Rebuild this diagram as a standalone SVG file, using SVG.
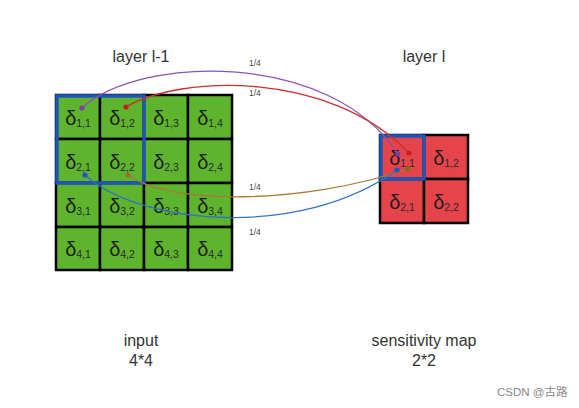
<svg xmlns="http://www.w3.org/2000/svg" width="579" height="408" viewBox="0 0 579 408">
<style>
text{font-family:"Liberation Sans",Arial,sans-serif;fill:#222}
.g{fill:#5fb42e;stroke:#000;stroke-width:2.5}
.r{fill:#e5454a;stroke:#000;stroke-width:2.5}
.d{font-size:20px;text-anchor:middle;fill:#1e1e1e}
.s{font-size:10.5px;fill:#2a2a2a}
.t{font-size:16px;text-anchor:middle;fill:#333}
.f{font-size:8.5px;fill:#444}
.sel{fill:none;stroke:#1f55b8;stroke-width:3.5}
.c{fill:none;stroke-width:1.3}
</style>
<rect width="579" height="408" fill="#fff"/>
<text class="t" x="141" y="62">layer l-1</text>
<text class="t" x="424" y="62">layer l</text>
<text class="t" x="141" y="346">input</text>
<text class="t" x="141" y="366">4*4</text>
<text class="t" x="424" y="346">sensitivity map</text>
<text class="t" x="424" y="366">2*2</text>
<text x="497" y="396" style="font-size:11.5px;fill:#888;font-family:'Liberation Sans','Noto Sans CJK SC',sans-serif">CSDN @古路</text>

<g id="input-grid">
<g id="a11"><rect class="g" x="56" y="95" width="44" height="44"/><text class="d" x="78" y="125">δ<tspan class="s" dy="2">1,1</tspan></text></g>
<g id="a12"><rect class="g" x="100" y="95" width="44" height="44"/><text class="d" x="122" y="125">δ<tspan class="s" dy="2">1,2</tspan></text></g>
<g id="a13"><rect class="g" x="144" y="95" width="44" height="44"/><text class="d" x="166" y="125">δ<tspan class="s" dy="2">1,3</tspan></text></g>
<g id="a14"><rect class="g" x="188" y="95" width="44" height="44"/><text class="d" x="210" y="125">δ<tspan class="s" dy="2">1,4</tspan></text></g>
<g id="a21"><rect class="g" x="56" y="139" width="44" height="44"/><text class="d" x="78" y="169">δ<tspan class="s" dy="2">2,1</tspan></text></g>
<g id="a22"><rect class="g" x="100" y="139" width="44" height="44"/><text class="d" x="122" y="169">δ<tspan class="s" dy="2">2,2</tspan></text></g>
<g id="a23"><rect class="g" x="144" y="139" width="44" height="44"/><text class="d" x="166" y="169">δ<tspan class="s" dy="2">2,3</tspan></text></g>
<g id="a24"><rect class="g" x="188" y="139" width="44" height="44"/><text class="d" x="210" y="169">δ<tspan class="s" dy="2">2,4</tspan></text></g>
<g id="a31"><rect class="g" x="56" y="183" width="44" height="44"/><text class="d" x="78" y="213">δ<tspan class="s" dy="2">3,1</tspan></text></g>
<g id="a32"><rect class="g" x="100" y="183" width="44" height="44"/><text class="d" x="122" y="213">δ<tspan class="s" dy="2">3,2</tspan></text></g>
<g id="a33"><rect class="g" x="144" y="183" width="44" height="44"/><text class="d" x="166" y="213">δ<tspan class="s" dy="2">3,3</tspan></text></g>
<g id="a34"><rect class="g" x="188" y="183" width="44" height="44"/><text class="d" x="210" y="213">δ<tspan class="s" dy="2">3,4</tspan></text></g>
<g id="a41"><rect class="g" x="56" y="227" width="44" height="43"/><text class="d" x="78" y="256">δ<tspan class="s" dy="2">4,1</tspan></text></g>
<g id="a42"><rect class="g" x="100" y="227" width="44" height="43"/><text class="d" x="122" y="256">δ<tspan class="s" dy="2">4,2</tspan></text></g>
<g id="a43"><rect class="g" x="144" y="227" width="44" height="43"/><text class="d" x="166" y="256">δ<tspan class="s" dy="2">4,3</tspan></text></g>
<g id="a44"><rect class="g" x="188" y="227" width="44" height="43"/><text class="d" x="210" y="256">δ<tspan class="s" dy="2">4,4</tspan></text></g>
<rect id="input-window" class="sel" x="57" y="96" width="87" height="87"/>
</g>

<g id="map-grid">
<g id="b11"><rect class="r" x="380" y="135" width="44" height="44"/><text class="d" x="402" y="165">δ<tspan class="s" dy="2">1,1</tspan></text></g>
<g id="b12"><rect class="r" x="424" y="135" width="44" height="44"/><text class="d" x="446" y="165">δ<tspan class="s" dy="2">1,2</tspan></text></g>
<g id="b21"><rect class="r" x="380" y="179" width="44" height="44"/><text class="d" x="402" y="209">δ<tspan class="s" dy="2">2,1</tspan></text></g>
<g id="b22"><rect class="r" x="424" y="179" width="44" height="44"/><text class="d" x="446" y="209">δ<tspan class="s" dy="2">2,2</tspan></text></g>
<rect id="map-window" class="sel" x="381" y="136" width="43" height="43"/>
</g>

<g id="connectors">
<path class="c" stroke="#8a52b4" d="M82,108 C140,55 330,50 398,154"/>
<path class="c" stroke="#c8302f" d="M126,107 C180,75 330,70 409,153"/>
<path class="c" stroke="#a87b34" d="M128,175 C170,205 300,205 408,169"/>
<path class="c" stroke="#2f72c6" d="M85,175 C140,225 300,240 397,170"/>
<circle cx="82" cy="108" r="2.6" fill="#7a3fa8"/>
<circle cx="398" cy="154" r="2.6" fill="#7a3fa8"/>
<circle cx="126" cy="107" r="2.6" fill="#c81e1e"/>
<circle cx="409" cy="153" r="2.6" fill="#c81e1e"/>
<circle cx="128" cy="175" r="2.6" fill="#a06a28"/>
<circle cx="408" cy="169" r="2.6" fill="#8a6a10"/>
<circle cx="85" cy="175" r="2.6" fill="#1f55c8"/>
<circle cx="397" cy="170" r="2.6" fill="#1f55c8"/>
<text class="f" x="249" y="66">1/4</text>
<text class="f" x="249" y="96">1/4</text>
<text class="f" x="249" y="190">1/4</text>
<text class="f" x="249" y="235">1/4</text>
</g>
</svg>
